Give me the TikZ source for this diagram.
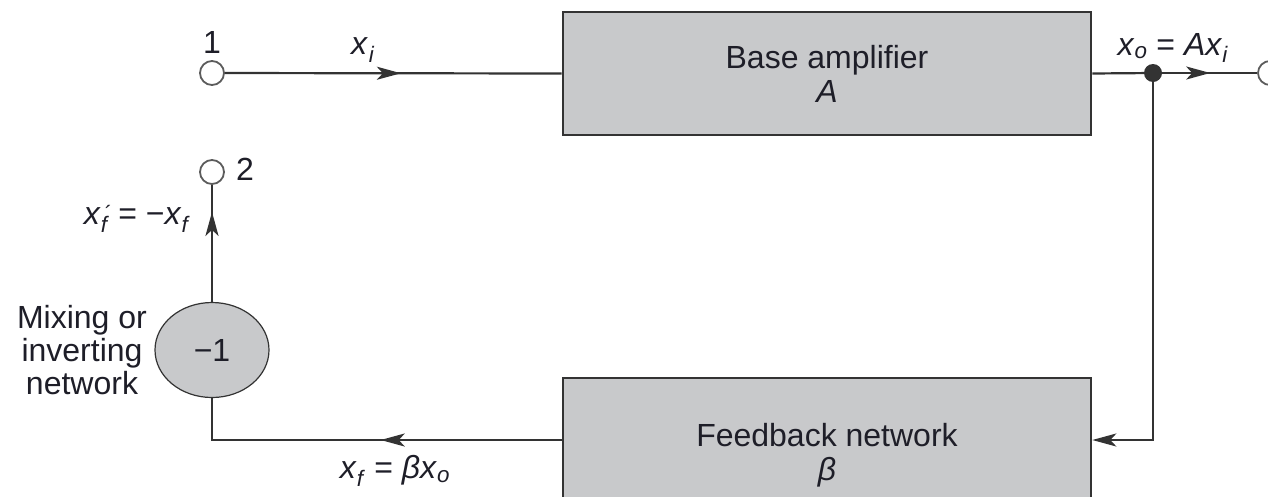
\documentclass[tikz,border=0pt]{standalone}
\usepackage{fontspec}
\setmainfont{Liberation Sans}
\usetikzlibrary{arrows.meta,decorations.markings,shapes.geometric}
\definecolor{boxgray}{HTML}{C8C9CB}
\definecolor{ink}{HTML}{333333}
\definecolor{txt}{HTML}{1E1E28}
\begin{document}
\begin{tikzpicture}[x=1pt,y=-1pt,
  font=\fontsize{32}{36}\selectfont, text=txt,
  >={Stealth[length=24pt,width=13pt,inset=6pt]},
  conn/.style={draw=ink, line width=2.2pt},
  midarrow/.style={postaction={decorate}, decoration={markings, mark=at position #1 with {\arrow{>}}}},
  blk/.style={draw=ink, fill=boxgray, line width=2.6pt, align=center, inner sep=0pt},
  termc/.style={circle, draw=ink!80, line width=1.8pt, fill=white, minimum size=24pt, inner sep=0pt},
  lbl/.style={inner sep=0pt, align=center}]
\fill[white] (0,0) rectangle (1268,496);
\useasboundingbox (0,0) rectangle (1268,496);

% blocks
\node[blk, minimum width=528pt, minimum height=123pt] (amp) at (827,73.5) {Base amplifier\\[-2pt]\textit{A}};
\node[blk, minimum width=528pt, minimum height=124pt] (fb) at (827,440) {};
\node[lbl] (fbt) at (827,455) {Feedback network\\[-2pt]\textit{β}};
\node[ellipse, fill=boxgray, draw=ink, line width=1.2pt, minimum width=114pt, minimum height=95pt, inner sep=0pt] (mix) at (212,350) {−1};

% terminals
\node[termc] (n1) at (212,73) {};
\node[termc] (n2) at (212,172) {};
\node[termc] (out) at (1270,73) {};
\node[circle, fill=ink, minimum size=18pt, inner sep=0pt] (dot) at (1153,73) {};

% connectors
\draw[conn, midarrow=176pt] (n1) -- (amp.west);
\draw[conn] (amp.east) -- (dot);
\draw[conn, midarrow=48pt] (dot) -- (out);
\draw[conn, ->] (dot) |- (fb.east);
\draw[conn, midarrow=181pt] (fb.west) -| (mix.south);
\draw[conn, midarrow=90pt] (mix.north) -- (n2);

% labels
\node[lbl] (l1) at (212,42) {1};
\node[lbl] (l2) at (245,169) {2};
\node[lbl] (lxi) at (363,50) {\textit{x}\textsubscript{\kern1pt\textit{i}}};
\node[lbl] (lxo) at (1173,48) {\textit{x}\textsubscript{\textit{o}}\;=\;\textit{Ax}\textsubscript{\textit{i}}};
\node[lbl] (lxf) at (395,471) {\textit{x}\textsubscript{\textit{f}}\;=\;\textit{βx}\textsubscript{\textit{o}}};
\node[lbl] (lxfp) at (137,219) {\textit{x}\makebox[0pt][l]{\hspace{4pt}\raisebox{3pt}{\fontsize{22}{22}\selectfont ´}}\textsubscript{\textit{f}}\;=\;−\textit{x}\textsubscript{\textit{f}}};
\node[lbl, font=\fontsize{32}{33}\selectfont] (mixl) at (82,350) {Mixing or\\inverting\\network};
\end{tikzpicture}
\end{document}
